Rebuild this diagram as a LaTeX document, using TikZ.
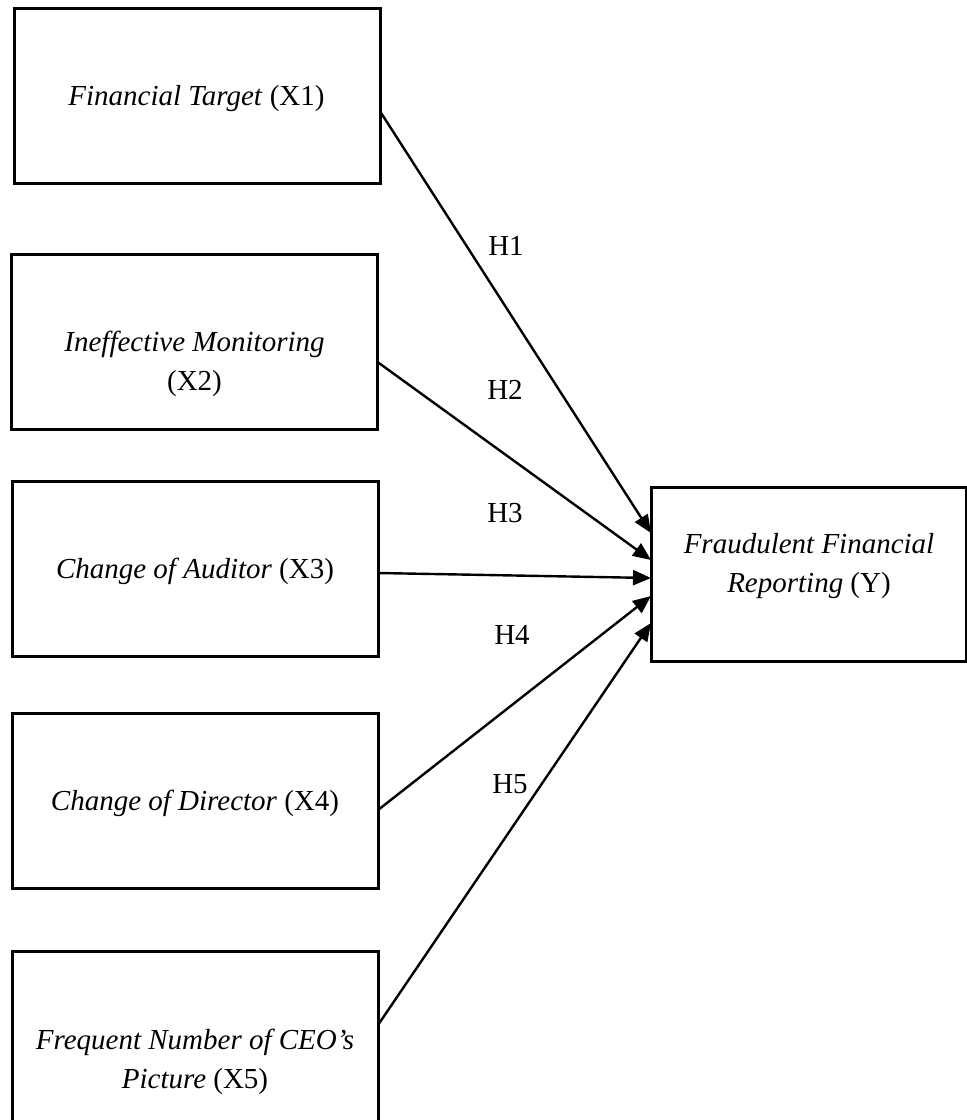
\documentclass[tikz,border=0pt]{standalone}
\usepackage{fontspec}
\setmainfont{Liberation Serif}
\usetikzlibrary{arrows.meta}
\tikzset{
  box/.style={draw, line width=3pt, minimum width=366pt, minimum height=175pt, inner sep=0pt, outer sep=0pt},
  txt/.style={align=center, inner sep=0pt, font=\fontsize{29}{38.5}\selectfont},
  hyp/.style={inner sep=0pt, font=\fontsize{29}{34}\selectfont},
  link/.style={line width=2.4pt, -{Triangle[length=18pt,width=15pt]}}
}
\begin{document}
\begin{tikzpicture}[x=1pt,y=-1pt]
\useasboundingbox (0,0) rectangle (967,1120);
\clip (0,0) rectangle (967,1120);
% boxes
\node[box] (x1) at (197.5,95.5) {};
\node[box] (x2) at (194.5,342) {};
\node[box] (x3) at (195,569) {};
\node[box] (x4) at (195,800.5) {};
\node[box, minimum height=180pt] (x5) at (195,1041) {};
\node[box, minimum width=315pt, minimum height=174pt] (y) at (808.5,574) {};
% texts
\node[txt] (t1) at (196.5,99) {\textit{Financial Target} (X1)};
\node[txt] (t2) at (194.5,364) {\textit{Ineffective Monitoring}\\(X2)};
\node[txt] (t3) at (195,571) {\textit{Change of Auditor} (X3)};
\node[txt] (t4) at (195,803) {\textit{Change of Director} (X4)};
\node[txt] (t5) at (195,1062) {\textit{Frequent Number of CEO’s}\\\textit{Picture} (X5)};
\node[txt] (ty) at (809,566) {\textit{Fraudulent Financial}\\\textit{Reporting} (Y)};
% connectors
\draw[link] ([yshift=-16.5pt]x1.east) -- ([yshift=41pt]y.west);
\draw[link] ([yshift=-20pt]x2.east) -- ([yshift=14pt]y.west);
\draw[link] ([yshift=-4pt]x3.east) -- ([yshift=-4pt]y.west);
\draw[link] ([yshift=-9.5pt]x4.east) -- ([yshift=-22pt]y.west);
\draw[link] ([yshift=16pt]x5.east) -- ([yshift=-49pt]y.west);
% hypothesis labels
\node[hyp] (h1) at (506,246) {H1};
\node[hyp] (h2) at (505,390) {H2};
\node[hyp] (h3) at (505,513) {H3};
\node[hyp] (h4) at (512,635) {H4};
\node[hyp] (h5) at (510,784) {H5};
\end{tikzpicture}
\end{document}
